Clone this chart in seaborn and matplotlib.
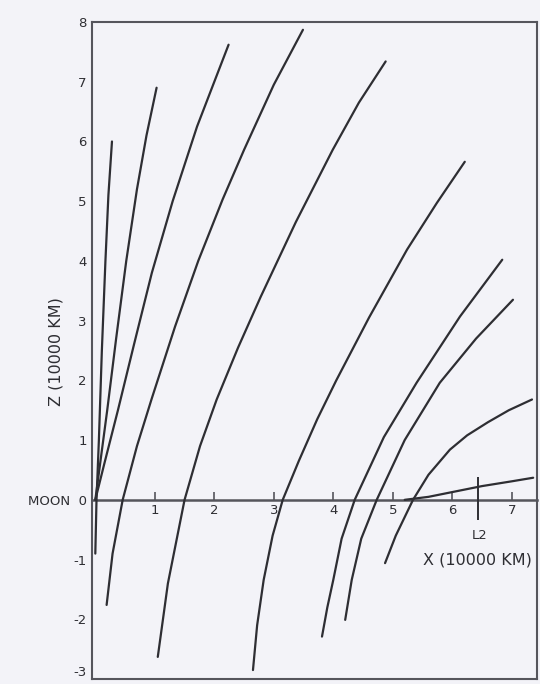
import numpy as np
import pandas as pd
import matplotlib
matplotlib.use('Agg')
import matplotlib.pyplot as plt
import seaborn as sns

# trajectories, X and Z in units of 10000 km
xa = [0.0, 0.02, 0.06, 0.11, 0.17, 0.22, 0.28]
za = [-0.9, 0.0, 1.0, 2.5, 4.0, 5.1, 6.0]

xb = [0.0, 0.08, 0.2, 0.35, 0.52, 0.7, 0.86, 1.03]
zb = [0.0, 0.6, 1.5, 2.7, 4.0, 5.2, 6.1, 6.9]

xc = [0.0, 0.15, 0.38, 0.65, 0.95, 1.3, 1.71, 2.0, 2.24]
zc = [0.0, 0.6, 1.5, 2.6, 3.8, 5.0, 6.25, 7.0, 7.62]

xd = [0.19, 0.29, 0.46, 0.7, 0.95, 1.34, 1.73, 2.14, 2.5, 3.0, 3.49]
zd = [-1.76, -0.9, 0.0, 0.9, 1.7, 2.9, 4.0, 5.03, 5.86, 6.95, 7.87]

xe = [1.05, 1.22, 1.5, 1.76, 2.04, 2.4, 2.78, 3.37, 3.99, 4.43, 4.88]
ze = [-2.63, -1.4, 0.0, 0.9, 1.68, 2.55, 3.4, 4.65, 5.86, 6.65, 7.34]

xf = [2.65, 2.72, 2.83, 2.98, 3.15, 3.42, 3.73, 4.05, 4.6, 5.24, 5.74, 6.21]
zf = [-2.85, -2.1, -1.34, -0.6, 0.0, 0.65, 1.35, 2.0, 3.05, 4.19, 4.97, 5.66]

xg = [3.81, 3.9, 4.0, 4.14, 4.36, 4.85, 5.4, 6.13, 6.84]
zg = [-2.29, -1.8, -1.34, -0.65, 0.0, 1.05, 1.96, 3.07, 4.02]

xh = [4.2, 4.31, 4.47, 4.73, 5.2, 5.79, 6.4, 7.02]
zh = [-2.01, -1.34, -0.65, 0.0, 1.0, 1.96, 2.7, 3.35]

xi = [4.87, 5.05, 5.34, 5.6, 5.96, 6.25, 6.6, 6.95, 7.34]
zi = [-1.06, -0.6, 0.0, 0.42, 0.84, 1.08, 1.3, 1.5, 1.68]

xj = [5.2, 5.6, 6.0, 6.5, 7.0, 7.36]
zj = [0.0, 0.05, 0.13, 0.23, 0.31, 0.37]

x_ticks = [1, 2, 3, 4, 5, 6, 7]
z_ticks = [-3, -2, -1, 0, 1, 2, 3, 4, 5, 6, 7, 8]
z_labels = ['-3', '-2', '-1', 'MOON  0', '1', '2', '3', '4', '5', '6', '7', '8']
L2_x = 6.43

curves = [(xa, za), (xb, zb), (xc, zc), (xd, zd), (xe, ze),
          (xf, zf), (xg, zg), (xh, zh), (xi, zi), (xj, zj)]

sns.set_style('white')
plt.rcParams['font.family'] = ['DejaVu Sans']

bg = '#f3f3f8'
ink = '#2e2e33'
frame = '#55555c'

fig = plt.figure(figsize=(5.4, 6.84), dpi=100, facecolor=bg)
ax = fig.add_axes([0.171, 0.0073, 0.823, 0.9605], facecolor=bg)

for xs, zs in curves:
    df = pd.DataFrame({'x': xs, 'z': zs})
    sns.lineplot(data=df, x='x', y='z', sort=False, estimator=None,
                 color=ink, linewidth=1.6, ax=ax)

ax.set_xlim(-0.05, 7.42)
ax.set_ylim(-3, 8)

for s in ax.spines.values():
    s.set_color(frame)
    s.set_linewidth(1.5)

ax.set_xticks([])
ax.set_xlabel('')
ax.set_yticks(z_ticks)
ax.set_yticklabels(z_labels)
ax.tick_params(axis='y', direction='in', length=5, width=1.2, color=frame,
               labelcolor=ink, labelsize=9.5, pad=4)
ax.get_yticklabels()[0].set_va('bottom')
ax.set_ylabel('Z (10000 KM)', fontsize=11.5, color=ink)
ax.yaxis.set_label_coords(-0.066, 0.498)

# the moon line z = 0 with its own ticks
sec = ax.secondary_xaxis(3 / 11)
sec.set_xticks(x_ticks)
sec.tick_params(direction='in', length=6, width=1.2, color=frame,
                labelcolor=ink, labelsize=9.5, pad=3)
sec.spines['bottom'].set_color(frame)
sec.spines['bottom'].set_linewidth(1.8)
sec.spines['top'].set_visible(False)

ax.vlines(L2_x, -0.34, 0.38, color=ink, linewidth=1.4)
ax.text(L2_x + 0.03, -0.6, 'L2', ha='center', va='center', fontsize=9.5, color=ink)
ax.text(L2_x, -1.0, 'X (10000 KM)', ha='center', va='center', fontsize=11.5, color=ink)

fig.savefig('out.png', dpi=100, facecolor=bg)
